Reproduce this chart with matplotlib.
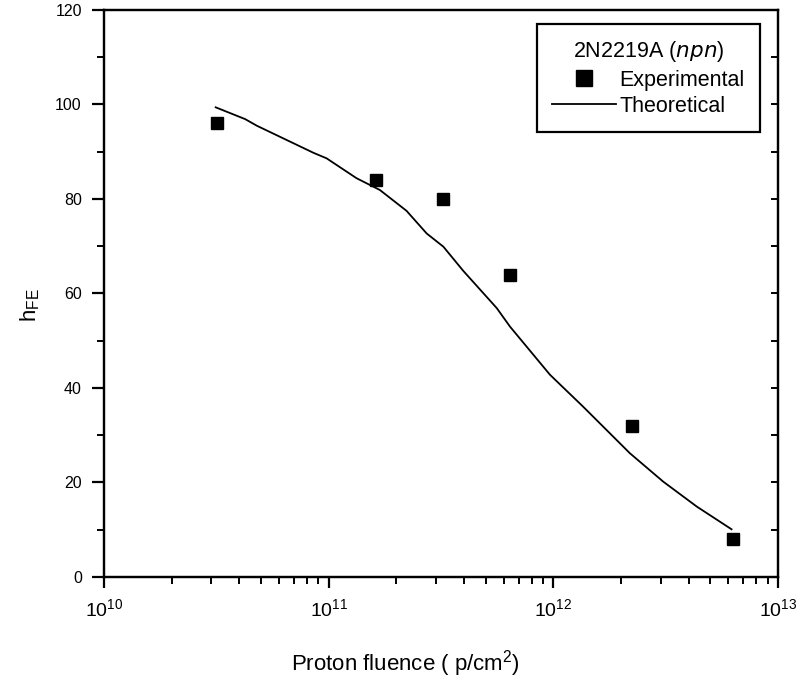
import matplotlib
matplotlib.use("Agg")
import matplotlib.pyplot as plt
from matplotlib.ticker import LogLocator, FixedLocator, MultipleLocator, NullFormatter, FuncFormatter
import numpy as np

plt.rcParams['font.family'] = ['Liberation Sans', 'DejaVu Sans']
plt.rcParams['mathtext.default'] = 'regular'

# experimental points (fluence in p/cm^2, hFE)
exp_fluence = [3.19e10, 1.62e11, 3.23e11, 6.41e11, 2.24e12, 6.30e12]
exp_hfe = [96, 84, 80, 64, 32, 8]

# theoretical curve
th_fluence = [3.14e10, 4.25e10, 4.79e10, 8.53e10, 9.79e10, 1.33e11, 1.69e11,
              2.22e11, 2.73e11, 3.24e11, 3.97e11, 5.60e11, 6.41e11, 9.66e11,
              1.36e12, 2.19e12, 3.08e12, 4.35e12, 6.21e12]
th_hfe = [99.4, 96.9, 95.5, 89.8, 88.6, 84.4, 81.9, 77.5, 72.7, 69.9, 64.8,
          56.9, 53.0, 42.8, 36.0, 26.2, 20.2, 14.9, 10.1]

fig = plt.figure(figsize=(8.02, 6.83), dpi=100)
ax = fig.add_axes([0.1297, 0.1552, 0.8404, 0.8302])

ax.plot(th_fluence, th_hfe, color='black', linewidth=1.3, label='Theoretical')
ax.plot(exp_fluence, exp_hfe, linestyle='none', marker='s', markersize=9.3,
        color='black', label='Experimental')

ax.set_xscale('log')
ax.set_xlim(1e10, 1e13)
ax.set_ylim(0, 120)

for s in ax.spines.values():
    s.set_linewidth(1.6)

# x ticks
ax.xaxis.set_major_locator(FixedLocator([1e10, 1e11, 1e12, 1e13]))
ax.xaxis.set_major_formatter(FuncFormatter(lambda v, p: r'$10^{%d}$' % round(np.log10(v))))
ax.xaxis.set_minor_locator(LogLocator(base=10, subs=np.arange(2, 10)))
ax.xaxis.set_minor_formatter(NullFormatter())
ax.tick_params(axis='x', which='major', direction='out', length=8, width=1.6,
               labelsize=14, pad=7, top=False)
ax.tick_params(axis='x', which='minor', direction='out', length=5, width=1.4, top=False)

# y ticks
ax.yaxis.set_major_locator(MultipleLocator(20))
ax.yaxis.set_minor_locator(MultipleLocator(10))
ax.tick_params(axis='y', which='major', direction='out', length=9, width=1.6,
               labelsize=11.5, pad=7)
ax.tick_params(axis='y', which='minor', direction='out', length=5, width=1.4)

# right axis: inward ticks without labels
ax2 = ax.twinx()
ax2.set_ylim(0, 120)
ax2.yaxis.set_major_locator(MultipleLocator(10))
ax2.yaxis.set_major_formatter(NullFormatter())
ax2.tick_params(axis='y', direction='in', length=5, width=1.4)
for s in ax2.spines.values():
    s.set_linewidth(1.6)

ax.set_xlabel(r'Proton fluence ( p/cm$^{2}$)', fontsize=16)
ax.xaxis.set_label_coords(0.505, 0.0512, transform=fig.transFigure)
ax.xaxis.label.set_verticalalignment('top')
ax.set_ylabel(r'h$_{FE}$', fontsize=16)
ax.yaxis.set_label_coords(0.052, 0.553, transform=fig.transFigure)

handles, labels = ax.get_legend_handles_labels()
leg = ax.legend(handles[::-1], labels[::-1], title=r'2N2219A ($\mathit{npn}$)',
                loc='upper right', bbox_to_anchor=(0.973, 0.975), borderaxespad=0,
                fontsize=15.5, title_fontsize=15.5, fancybox=False, framealpha=1,
                edgecolor='black', handlelength=3.0, handletextpad=0.15,
                borderpad=0.7, labelspacing=0.25, markerscale=1.2)
leg.get_frame().set_linewidth(1.6)

fig.savefig('out.png', dpi=100)
